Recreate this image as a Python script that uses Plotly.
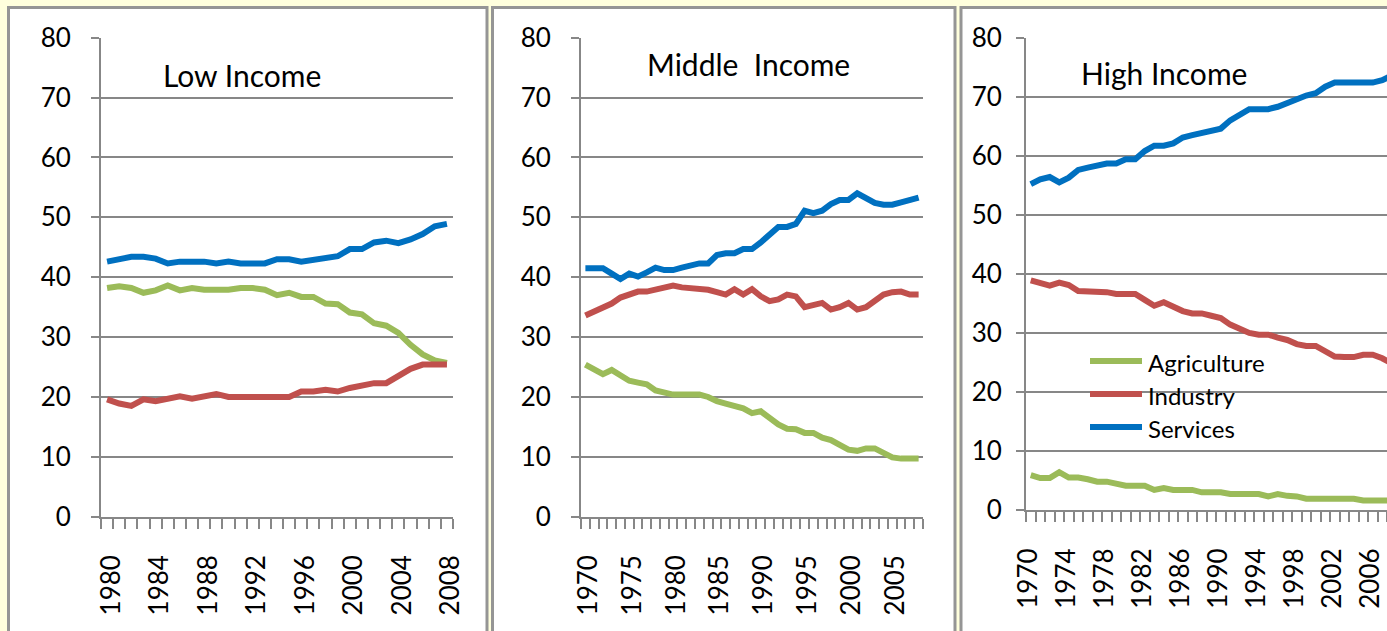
import plotly.graph_objects as go

# ---- Low income economies: value added by sector (% of GDP) ----
low_years = list(range(1980, 2009))
low_agriculture = [38.2, 38.5, 38.2, 37.4, 37.8, 38.6, 37.8, 38.2, 37.9, 37.9,
                   37.9, 38.2, 38.2, 37.9, 37.0, 37.4, 36.7, 36.7, 35.6, 35.5,
                   34.1, 33.8, 32.3, 31.9, 30.7, 28.7, 27.1, 26.1, 25.7]
low_industry = [19.6, 18.9, 18.5, 19.6, 19.3, 19.7, 20.1, 19.7, 20.1, 20.5,
                20.0, 20.0, 20.0, 20.0, 20.0, 20.0, 20.9, 20.9, 21.2, 20.9,
                21.5, 21.9, 22.3, 22.3, 23.4, 24.7, 25.4, 25.4, 25.4]
low_services = [42.6, 43.0, 43.4, 43.4, 43.1, 42.3, 42.6, 42.6, 42.6, 42.3,
                42.6, 42.3, 42.3, 42.3, 43.0, 43.0, 42.6, 42.9, 43.1, 43.5,
                44.7, 44.7, 45.8, 46.1, 45.7, 46.3, 47.2, 48.5, 48.9]
low_ticks = [1980, 1984, 1988, 1992, 1996, 2000, 2004, 2008]

# ---- Middle income economies ----
mid_years = list(range(1970, 2009))
mid_agriculture = [25.4, 24.6, 23.8, 24.5, 23.6, 22.7, 22.4, 22.1, 21.1, 20.7,
                   20.4, 20.4, 20.4, 20.4, 20.0, 19.3, 18.9, 18.5, 18.1, 17.3,
                   17.6, 16.5, 15.4, 14.7, 14.6, 14.0, 14.0, 13.2, 12.8, 12.0,
                   11.2, 11.0, 11.4, 11.4, 10.6, 9.9, 9.7, 9.7, 9.7]
mid_industry = [33.6, 34.3, 35.1, 35.6, 36.6, 37.2, 37.6, 37.6, 38.0, 38.2,
                38.6, 38.3, 38.2, 37.9, 37.9, 37.5, 37.1, 38.0, 37.1, 38.0,
                36.8, 36.0, 36.3, 37.1, 36.8, 35.0, 35.4, 35.7, 34.6, 35.0,
                35.7, 34.6, 35.0, 36.1, 37.1, 37.5, 37.6, 37.1, 37.1]
mid_services = [41.5, 41.5, 41.5, 40.6, 39.7, 40.6, 40.1, 40.8, 41.6, 41.2,
                41.2, 41.6, 41.9, 42.3, 42.3, 43.7, 44.0, 44.0, 44.7, 44.7,
                45.8, 47.2, 48.4, 48.4, 48.9, 51.1, 50.7, 51.1, 52.2, 52.9,
                52.9, 54.0, 53.1, 52.4, 52.1, 52.1, 52.5, 52.9, 53.3]
mid_ticks = [1970, 1975, 1980, 1985, 1990, 1995, 2000, 2005]

# ---- High income economies ----
high_years = list(range(1970, 2009))
high_agriculture = [5.9, 5.4, 5.4, 6.4, 5.5, 5.5, 5.2, 4.8, 4.8, 4.4,
                    4.1, 4.1, 4.1, 3.4, 3.7, 3.4, 3.4, 3.4, 3.0, 3.0,
                    3.0, 2.7, 2.7, 2.7, 2.7, 2.3, 2.7, 2.4, 2.3, 1.9,
                    1.9, 1.9, 1.9, 1.9, 1.9, 1.6, 1.6, 1.6, 1.6]
high_industry = [38.9, 38.4, 38.0, 38.5, 38.1, 37.1, 37.1, 37.1, 36.9, 36.6,
                 36.6, 36.6, 35.6, 34.6, 35.2, 34.4, 33.7, 33.3, 33.3, 32.9,
                 32.5, 31.4, 30.7, 30.0, 29.7, 29.7, 29.2, 28.8, 28.1, 27.8,
                 27.8, 26.8, 26.0, 25.9, 25.9, 26.3, 26.3, 25.7, 24.8]
high_services = [55.2, 56.0, 56.4, 55.5, 56.3, 57.6, 58.0, 58.4, 58.7, 58.7,
                 59.4, 59.4, 60.8, 61.7, 61.7, 62.1, 63.1, 63.5, 63.9, 64.2,
                 64.6, 66.0, 67.1, 67.9, 67.9, 67.9, 68.3, 69.0, 69.7, 70.2,
                 70.6, 71.7, 72.4, 72.4, 72.4, 72.4, 72.4, 72.8, 73.6]
high_ticks = [1970, 1974, 1978, 1982, 1986, 1990, 1994, 1998, 2002, 2006]

sectors = ["Agriculture", "Industry", "Services"]
sector_colors = ["#9BBB59", "#C0504D", "#0070C0"]

W, H = 1387, 631
FONT = "Lato"
GRID = "#878787"
BG = "#FFFFDD"


def fx(p):
    return p / W


def fy(p):
    return 1 - p / H


panels = [
    dict(years=low_years, series=[low_agriculture, low_industry, low_services],
         ticks=low_ticks, xdom=[fx(101), fx(453)], ydom=[fy(516.7), fy(37.7)],
         xrange=[1979.5, 2008.5], ystand=15, xshift=4),
    dict(years=mid_years, series=[mid_agriculture, mid_industry, mid_services],
         ticks=mid_ticks, xdom=[fx(581), fx(923)], ydom=[fy(516.7), fy(37.7)],
         xrange=[1969.5, 2008.5], ystand=15, xshift=3),
    dict(years=high_years, series=[high_agriculture, high_industry, high_services],
         ticks=high_ticks, xdom=[fx(1026), 1.0], ydom=[fy(510), fy(37.7)],
         xrange=[1969.5, 2007.5], ystand=9, xshift=-2),
]

fig = go.Figure()
layout = {}

for i, p in enumerate(panels, start=1):
    sfx = "" if i == 1 else str(i)
    for name, vals, col in zip(sectors, p["series"], sector_colors):
        fig.add_trace(go.Scatter(
            x=p["years"], y=vals, mode="lines", name=name,
            line=dict(color=col, width=6),
            xaxis="x" + sfx, yaxis="y" + sfx, showlegend=False,
            hoverinfo="skip"))
    layout["xaxis" + sfx] = dict(
        domain=p["xdom"], anchor="y" + sfx, range=p["xrange"], automargin=False,
        tickmode="array", tickvals=p["ticks"], ticktext=[str(t) for t in p["ticks"]],
        ticks="", tickangle=-90, ticklabelstandoff=26, ticklabelshift=p["xshift"],
        ticklabeloverflow="allow",
        tickfont=dict(family=FONT, size=26, color="#000"),
        showgrid=False, zeroline=False, showline=True, linecolor=GRID, linewidth=2,
        minor=dict(ticks="outside", tick0=p["xrange"][0], dtick=1, ticklen=10,
                   tickwidth=2, tickcolor=GRID, showgrid=False),
        fixedrange=True)
    layout["yaxis" + sfx] = dict(
        domain=p["ydom"], anchor="x" + sfx, range=[0, 80], dtick=10, automargin=False,
        tickmode="linear", tick0=0,
        ticks="outside", ticklen=8, tickwidth=2, tickcolor=GRID,
        ticklabelstandoff=p["ystand"],
        tickfont=dict(family=FONT, size=26, color="#000"),
        showgrid=True, gridcolor=GRID, gridwidth=2,
        zeroline=False, showline=True, linecolor=GRID, linewidth=2,
        fixedrange=True)

# white chart boxes with grey frames
shapes = []
for x0, x1 in [(8.5, 487), (492.5, 955), (961, 1400)]:
    shapes.append(dict(type="rect", xref="paper", yref="paper",
                       x0=fx(x0), x1=fx(x1), y0=fy(645), y1=fy(7.5),
                       fillcolor="white", line=dict(color="#959595", width=3),
                       layer="below"))

# legend drawn inside the high income chart
legend_y = [361, 394, 427]
annotations = []
for name, col, ly in zip(sectors, sector_colors, legend_y):
    shapes.append(dict(type="line", xref="paper", yref="paper",
                       x0=fx(1090), x1=fx(1142), y0=fy(ly), y1=fy(ly),
                       line=dict(color=col, width=6), layer="above"))
    annotations.append(dict(text=name, xref="paper", yref="paper",
                            x=fx(1146), y=fy(ly + 1), xanchor="left", yanchor="middle",
                            showarrow=False,
                            font=dict(family=FONT, size=24, color="#000")))

titles = [("Low Income", 242, 75), ("Middle\u00a0\u00a0Income", 748, 64),
          ("High Income", 1164, 73)]
for text, cx, cy in titles:
    annotations.append(dict(text=text, xref="paper", yref="paper",
                            x=fx(cx), y=fy(cy), xanchor="center", yanchor="middle",
                            showarrow=False,
                            font=dict(family=FONT, size=30, color="#000")))

fig.update_layout(
    template="none",
    width=W, height=H, margin=dict(l=0, r=0, t=0, b=0, pad=0), autosize=False,
    paper_bgcolor=BG, plot_bgcolor="white",
    shapes=shapes, annotations=annotations, showlegend=False,
    **layout)

fig.write_html("out.html")
